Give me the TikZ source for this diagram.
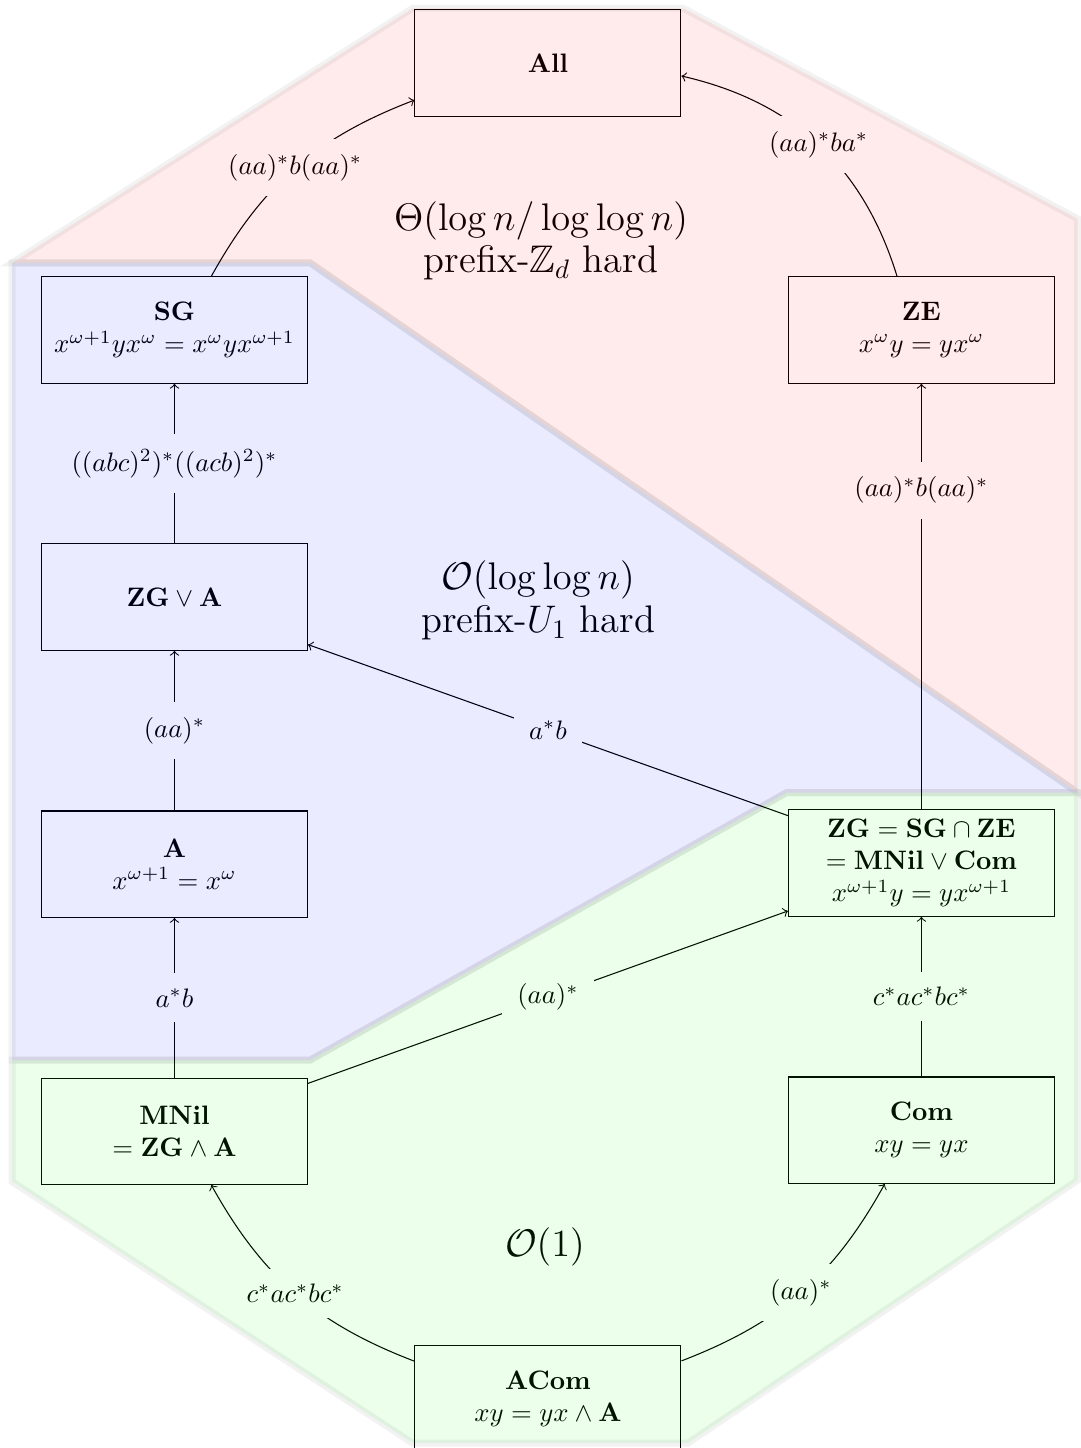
\documentclass[tikz,border=0pt]{standalone}
\usepackage{amsmath,amssymb}
\usepackage{tikz}
\usetikzlibrary{positioning}

\begin{document}
\begin{tikzpicture}[
    variety/.style={draw, minimum width=3.5cm, minimum height=1.4cm, align=center},
    lbl/.style={fill=white, inner sep=2mm},
    big/.style={align=center, font={\Large\baselineskip=16pt}},
    region/.style={fill opacity=0.08, draw=black, draw opacity=0.05, line width=2.6pt}
]
\useasboundingbox (-7.21,0.829) rectangle (7.013,-18.224);

\node[variety] (all) {\textbf{All}};
\node[variety] (sg) [below left=2.1cm and 1.4cm of all] {\textbf{SG}\\ $x^{\omega+1}yx^{\omega} = x^{\omega}yx^{\omega+1}$};
\node[variety] (ze) [below right=2.1cm and 1.4cm of all] {\textbf{ZE}\\ $x^{\omega}y = yx^{\omega}$};
\node[variety] (zga) [below=2.1cm of sg] {$\mathbf{ZG} \vee \mathbf{A}$};
\node[variety] (a) [below=2.1cm of zga] {$\mathbf{A}$\\ $x^{\omega+1} = x^{\omega}$};
\node[variety] (zg) [below=5.6cm of ze] {$\mathbf{ZG} = \mathbf{SG} \cap \mathbf{ZE}$\\ $= \mathbf{MNil} \vee \mathbf{Com}$\\ $x^{\omega+1}y = yx^{\omega+1}$};
\node[variety] (mnil) [below=2.1cm of a] {\textbf{MNil}\\ $= \mathbf{ZG} \wedge \mathbf{A}$};
\node[variety] (com) [below=2.1cm of zg] {\textbf{Com}\\ $xy = yx$};
\node[variety] (acom) [below right=2.1cm and 1.4cm of mnil] {\textbf{ACom}\\ $xy = yx \wedge \mathbf{A}$};

\node[big] (theta) at (-0.09,-2.34) {$\Theta(\log n/\log\log n)$\\ prefix-$\mathbb{Z}_d$\ hard};
\node[big] (loglog) at (-0.13,-7.07) {$\mathcal{O}(\log\log n)$\\ prefix-$U_1$\ hard};
\node[big] (const) at (-0.04,-15.58) {$\mathcal{O}(1)$};

\draw[->] (sg) to[bend left=20] node[lbl] {$(aa)^*b(aa)^*$} (all);
\draw[->] (ze) to[bend right=30] node[lbl] {$(aa)^*ba^*$} (all);
\draw[->] (zga) -- node[lbl] {$((abc)^2)^*((acb)^2)^*$} (sg);
\draw[->] (a) -- node[lbl] {$(aa)^*$} (zga);
\draw[->] (mnil) -- node[lbl] {$a^*b$} (a);
\draw[->] (zg) -- node[lbl] {$a^*b$} (zga);
\draw[->] (zg) -- node[lbl, pos=0.75] {$(aa)^*b(aa)^*$} (ze);
\draw[->] (mnil) -- node[lbl] {$(aa)^*$} (zg);
\draw[->] (com) -- node[lbl] {$c^*ac^*bc^*$} (zg);
\draw[->] (acom) to[bend left=20] node[lbl] {$c^*ac^*bc^*$} (mnil);
\draw[->] (acom) to[bend right=20] node[lbl] {$(aa)^*$} (com);

\filldraw[region, fill=red] (-7.05,-2.63) -- (-1.78,0.72) -- (1.78,0.72) -- (6.97,-2.05)
    -- (6.97,-9.6) -- (-3.13,-2.63) -- cycle;
\filldraw[region, fill=blue] (-7.05,-2.63) -- (-3.13,-2.63) -- (6.97,-9.6) -- (3.14,-9.6)
    -- (-3.13,-13.12) -- (-7.05,-13.12) -- cycle;
\filldraw[region, fill=green] (3.14,-9.6) -- (6.97,-9.6) -- (6.97,-14.7) -- (1.84,-18.16)
    -- (-1.78,-18.16) -- (-7.05,-14.72) -- (-7.05,-13.12) -- (-3.13,-13.12) -- cycle;
\end{tikzpicture}
\end{document}
